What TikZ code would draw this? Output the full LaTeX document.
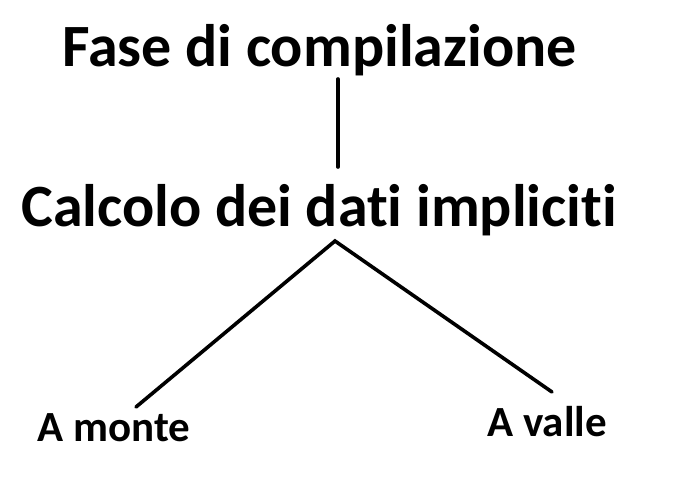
\documentclass[tikz,border=0pt]{standalone}
\usepackage{fontspec}
\setmainfont{Carlito}[Ligatures=NoCommon]
\usetikzlibrary{positioning}
\tikzset{
  label text/.style={font=\bfseries\fontsize{#1}{#1}\selectfont,inner sep=0pt,anchor=base},
  branch/.style={line width=3.6pt,draw=black,line cap=round},
}

\begin{document}
\begin{tikzpicture}[x=1pt,y=-1pt]
  \useasboundingbox (0,0) rectangle (685,477);

  \node[label text=60] (phase) at (319.5,66) {Fase di compilazione};
  \node[label text=60] (calc) at (319,226) {Calcolo dei dati impliciti};
  \node[label text=43] (upstream) at (114,441) {A monte};
  \node[label text=43] (downstream) at (547,436) {A valle};

  \coordinate (stemtop) at (338,79);
  \coordinate (stembottom) at (338,167);
  \coordinate (apex) at (335,241);
  \coordinate (leftfoot) at (136,407);
  \coordinate (rightfoot) at (552,392);

  \draw[branch] (stemtop) -- (stembottom);
  \draw[branch] (leftfoot) -- (apex) -- (rightfoot);
\end{tikzpicture}
\end{document}
